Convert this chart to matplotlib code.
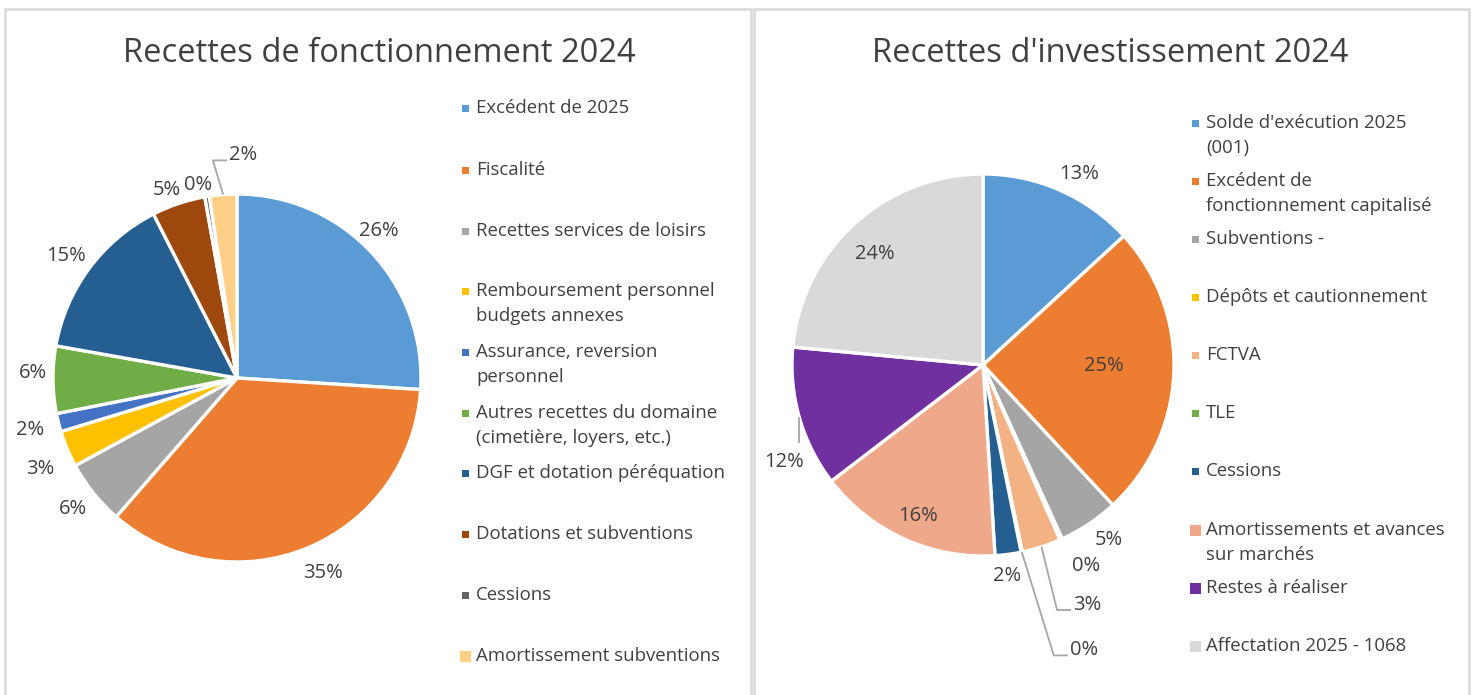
import matplotlib.pyplot as plt
import numpy as np
from matplotlib.patches import Rectangle

plt.rcParams['font.family'] = ['Open Sans', 'DejaVu Sans']

W, H = 1474, 695

# --- data -------------------------------------------------------------
fonct_title = "Recettes de fonctionnement 2024"
fonct_labels = ["Excédent de 2025", "Fiscalité", "Recettes services de loisirs",
                "Remboursement personnel\nbudgets annexes",
                "Assurance, reversion\npersonnel",
                "Autres recettes du domaine\n(cimetière, loyers, etc.)",
                "DGF et dotation péréquation", "Dotations et subventions",
                "Cessions", "Amortissement subventions"]
fonct_values = [26.0, 35.4, 5.7, 3.2, 1.6, 5.9, 14.7, 4.7, 0.4, 2.4]
fonct_colors = ["#5B9BD5", "#ED7D31", "#A5A5A5", "#FFC000", "#4472C4",
                "#70AD47", "#255E91", "#9E480E", "#636363", "#FFCF88"]

invest_title = "Recettes d'investissement 2024"
invest_labels = ["Solde d'exécution 2025\n(001)",
                 "Excédent de\nfonctionnement capitalisé",
                 "Subventions -", "Dépôts et cautionnement", "FCTVA", "TLE",
                 "Cessions", "Amortissements et avances\nsur marchés",
                 "Restes à réaliser", "Affectation 2025 - 1068"]
invest_values = [13.2, 24.9, 5.1, 0.2, 3.3, 0.1, 2.2, 15.6, 11.9, 23.5]
invest_colors = ["#5B9BD5", "#ED7D31", "#A5A5A5", "#FFC000", "#F4B183",
                 "#70AD47", "#255E91", "#F0A88A", "#7030A0", "#D9D9D9"]

# --- label placement: (angle shift deg, radius factor, leader type) ----
fonct_lab = [(-3, 1.11, None), (-1, 1.16, None), (0, 1.14, None),
             (-2, 1.18, None), (0, 1.16, None), (2, 1.11, None),
             (-1, 1.14, None), (-2, 1.09, None), (-2, 1.07, None),
             (-2, 1.19, 'elbow')]
invest_lab = [(3, 1.12, None), (-2, 0.63, None), (-2, 1.13, None),
              (-3, 1.18, None), (1, 1.34, 'elbow'), (-2, 1.565, 'elbow'),
              (1, 1.11, None), (-1, 0.86, None), (-10, 1.16, 'drop'),
              (-2, 0.81, None)]

TXT = "#404040"
GRID = "#D9D9D9"
LEAD = "#A6A6A6"
PCT_FS = 14.5
LEG_FS = 13.4

fig = plt.figure(figsize=(W / 100, H / 100), dpi=100)
ax = fig.add_axes([0, 0, 1, 1])


def py(y):
    # pixel row (from top) -> data y (from bottom)
    return H - y


def draw_pie(values, colors, labels, lab_cfg, cx, cy, r, leg_x, leg_y, leg_sz):
    ax.pie(values, colors=colors, startangle=90, counterclock=False,
           center=(cx, py(cy)), radius=r,
           wedgeprops=dict(edgecolor='white', linewidth=2.4))
    vals = np.array(values)
    cum = np.cumsum(vals) / vals.sum()
    mids = 360 * (cum - vals / vals.sum() / 2)
    for v, a, (da, d, lead) in zip(vals, mids, lab_cfg):
        txt = f"{v:.0f}%"
        t = np.radians(a + da)
        x = cx + d * r * np.sin(t)
        y = py(cy) + d * r * np.cos(t)
        ea = np.radians(a)
        ex, ey = cx + r * np.sin(ea), py(cy) + r * np.cos(ea)
        if lead == 'elbow':
            ax.plot([ex, x, x + 14], [ey, y, y], color=LEAD, lw=1.3,
                    solid_capstyle='butt')
            ax.text(x + 16, y + 5, txt, fontsize=PCT_FS, color=TXT,
                    ha='left', va='center')
        elif lead == 'drop':
            ax.plot([ex, ex], [ey, y + 20], color=LEAD, lw=1.3)
            ax.text(x, y, txt, fontsize=PCT_FS, color=TXT, ha='center', va='center')
        else:
            ax.text(x, y, txt, fontsize=PCT_FS, color=TXT, ha='center', va='center')
    # legend drawn by hand to keep Excel-like spacing
    for lab, col, yy, sz in zip(labels, colors, leg_y, leg_sz):
        ax.add_patch(Rectangle((leg_x - 10 - sz / 2, py(yy) - sz / 2), sz, sz,
                               facecolor=col, edgecolor='none'))
        for k, line in enumerate(lab.split("\n")):
            ax.text(leg_x, py(yy + 25 * k), line, fontsize=LEG_FS, color=TXT,
                    ha='left', va='center')


fonct_leg_y = [108, 170, 231, 291, 352, 413, 473, 534, 595, 656]
invest_leg_y = [123, 181, 239, 297, 355, 413, 471, 530, 588, 646]
fonct_leg_sz = [7, 7, 7, 7, 7, 7, 7, 7, 7, 11]
invest_leg_sz = [7, 7, 7, 7, 7, 7, 7, 11, 11, 11]

draw_pie(fonct_values, fonct_colors, fonct_labels, fonct_lab,
         237, 378, 184, 476, fonct_leg_y, fonct_leg_sz)
draw_pie(invest_values, invest_colors, invest_labels, invest_lab,
         983, 365, 191, 1206, invest_leg_y, invest_leg_sz)

ax.text(379, py(54), fonct_title, fontsize=23.5, color=TXT, ha='center', va='center')
ax.text(1110, py(54), invest_title, fontsize=23.5, color=TXT, ha='center', va='center')

# panel frames
ax.add_patch(Rectangle((5, -5), 746, py(9) + 5, fill=False, edgecolor=GRID, lw=1.8))
ax.add_patch(Rectangle((754, -5), 715, py(9) + 5, fill=False, edgecolor=GRID, lw=1.8))

ax.set_xlim(0, W)
ax.set_ylim(0, H)
ax.set_aspect('equal')
ax.axis('off')

fig.savefig("out.png", dpi=100)
